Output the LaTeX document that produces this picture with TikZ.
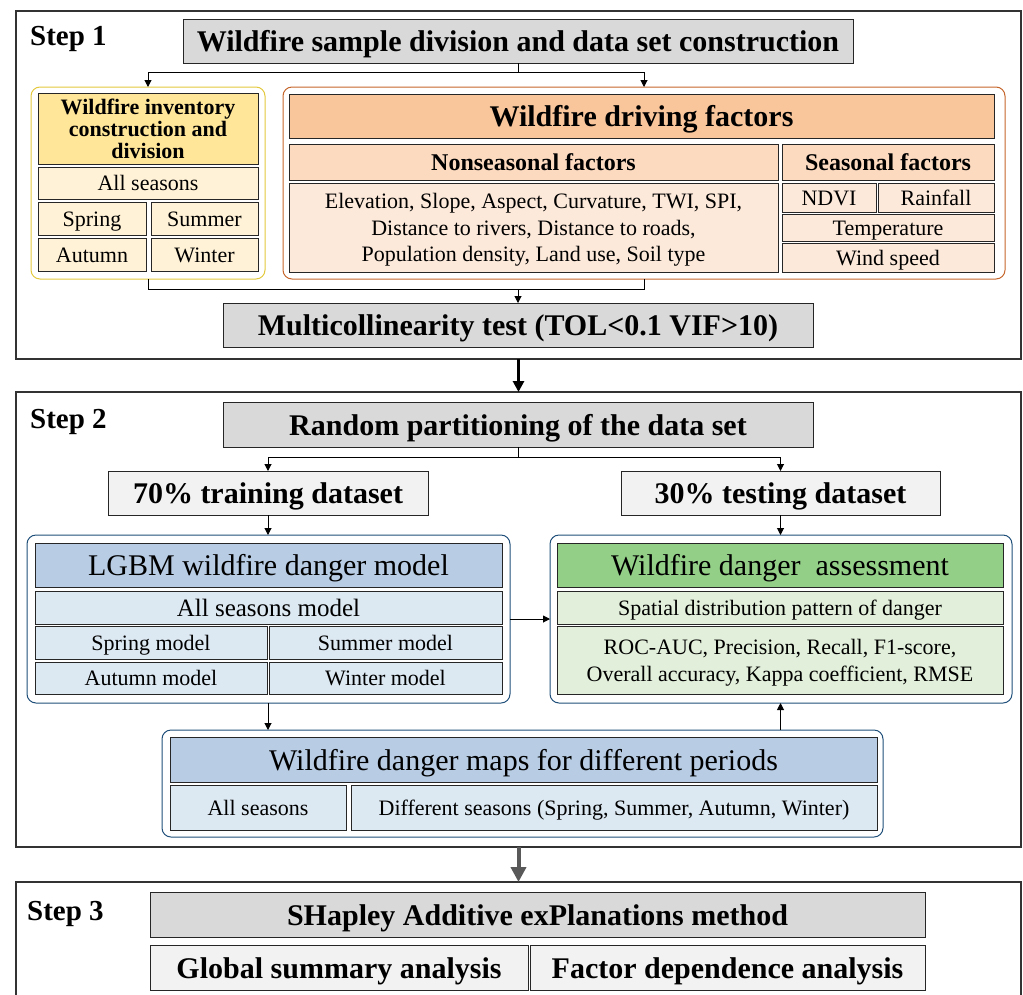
\documentclass[tikz,border=0pt]{standalone}
\usepackage{fontspec}
\setmainfont{Liberation Serif}
\usetikzlibrary{arrows.meta}

\definecolor{grayfill}{HTML}{D9D9D9}
\definecolor{lightfill}{HTML}{F2F2F2}
\definecolor{invline}{HTML}{E2C83C}
\definecolor{invhead}{HTML}{FFE699}
\definecolor{invcell}{HTML}{FFF2D6}
\definecolor{drvline}{HTML}{C5652A}
\definecolor{drvhead}{HTML}{F9C69C}
\definecolor{nonhead}{HTML}{FCDAC0}
\definecolor{drvcell}{HTML}{FDE9DA}
\definecolor{blueline}{HTML}{1F4E79}
\definecolor{bluehead}{HTML}{B8CCE4}
\definecolor{bluecell}{HTML}{DCE8F2}
\definecolor{greenhead}{HTML}{94CF88}
\definecolor{greencell}{HTML}{E2EFDA}

\begin{document}
\begin{tikzpicture}[x=1pt, y=-1pt,
    wh/.style 2 args={minimum width=#1pt, minimum height=#2pt},
    box/.style={draw=black!85, line width=0.9pt, inner sep=0pt, outer sep=0pt, align=center},
    para/.style={box, font=\fontsize{22}{27}\selectfont, text depth=0pt},
    bigbox/.style={box, fill=grayfill, font=\fontsize{30}{34}\selectfont\bfseries, text height=21pt, text depth=0pt},
    setbox/.style={box, fill=lightfill, font=\fontsize{30}{34}\selectfont\bfseries, text height=21pt, text depth=0pt},
    cell/.style={box, font=\fontsize{22}{27}\selectfont, text height=15.5pt, text depth=0pt},
    subhead/.style={box, font=\fontsize{24}{28}\selectfont\bfseries, text height=17pt, text depth=0pt},
    headcell/.style={box, font=\fontsize{30}{34}\selectfont, text height=21pt, text depth=0pt},
    grp/.style={draw, rounded corners=9pt, line width=1pt, inner sep=0pt, outer sep=0pt},
    stepframe/.style={draw=black!80, line width=1.4pt, inner sep=0pt, outer sep=0pt},
    steplabel/.style={anchor=base west, inner sep=0pt, font=\fontsize{29}{34}\selectfont\bfseries},
    arr/.style={-{Triangle[length=7pt, width=7pt]}, line width=1pt},
    bigarr/.style={-{Triangle[length=11pt, width=11pt]}, line width=3pt}
]
\useasboundingbox (0,0) rectangle (1023,994);

% ============================================================
% STEP 1
% ============================================================
\node[stepframe, wh={1005}{348}] (step1) at (518.5,185) {};
\node[steplabel] (lab1) at (30,45) {Step 1};

\node[bigbox, wh={670}{44}] (s1title) at (518,41) {Wildfire sample division and data set construction};

% wildfire inventory (left group)
\node[grp, draw=invline, wh={234}{192}] (invframe) at (148,183) {};
\node[para, fill=invhead, wh={220}{71}, font=\fontsize{22}{22}\selectfont\bfseries] (invhead) at (148,128.5)
    {Wildfire inventory\\construction and\\division};
\node[cell, fill=invcell, wh={220}{32}] (invall) at (148,183) {All seasons};
\node[cell, fill=invcell, wh={108}{33}] (invspr) at (92,218.5) {Spring};
\node[cell, fill=invcell, wh={107}{33}] (invsum) at (204.5,218.5) {Summer};
\node[cell, fill=invcell, wh={108}{33}] (invaut) at (92,254.5) {Autumn};
\node[cell, fill=invcell, wh={107}{33}] (invwin) at (204.5,254.5) {Winter};

% driving factors (right group)
\node[grp, draw=drvline, wh={722}{192}] (drvframe) at (644,183) {};
\node[bigbox, fill=drvhead, wh={705}{44}] (drvhead) at (641.5,116) {Wildfire driving factors};
\node[subhead, fill=nonhead, wh={489}{36}] (nonhead) at (533.5,162) {Nonseasonal factors};
\node[subhead, fill=nonhead, wh={212}{36}] (seahead) at (888,162) {Seasonal factors};
\node[para, fill=drvcell, wh={489}{89}, font=\fontsize{22}{26.5}\selectfont] (nonbody) at (533.5,227.5)
    {Elevation, Slope, Aspect, Curvature, TWI, SPI,\\Distance to rivers, Distance to roads,\\Population density, Land use, Soil type};
\node[cell, fill=drvcell, wh={94}{29}] (ndvi) at (829,197.5) {NDVI};
\node[cell, fill=drvcell, wh={116}{29}] (rain) at (936,197.5) {Rainfall};
\node[cell, fill=drvcell, wh={212}{27}] (temp) at (888,227.5) {Temperature};
\node[cell, fill=drvcell, wh={212}{29}] (wind) at (888,257.5) {Wind speed};

\node[bigbox, wh={590}{44}] (multi) at (518,325) {Multicollinearity test (TOL<0.1 VIF>10)};

% arrows
\draw[line width=1pt] (s1title.south) -- ++(0,9) coordinate (s1split);
\draw[arr] (s1split) -| (invframe.north);
\draw[arr] (s1split) -| (drvframe.north);
\coordinate (s1merge) at (518,289);
\draw[line width=1pt] (invframe.south) |- (s1merge);
\draw[line width=1pt] (drvframe.south) |- (s1merge);
\draw[arr] (s1merge) -- (multi.north);

% ============================================================
% STEP 2
% ============================================================
\node[stepframe, wh={1005}{455}] (step2) at (518.5,619.5) {};
\node[steplabel] (lab2) at (30,428) {Step 2};

\draw[bigarr] (step1.south) -- (step2.north);

\node[bigbox, wh={590}{45}] (part) at (518,424.5) {Random partitioning of the data set};
\node[setbox, wh={320}{44}] (train) at (268,493) {70\% training dataset};
\node[setbox, wh={319}{44}] (test) at (780.5,493) {30\% testing dataset};

% LGBM model group
\node[grp, draw=blueline, wh={483}{168}] (lgbmframe) at (268.5,619) {};
\node[headcell, fill=bluehead, wh={467}{44}] (lgbmhead) at (268.5,565) {LGBM wildfire danger model};
\node[cell, fill=bluecell, wh={467}{33}, font=\fontsize{25}{28}\selectfont, text height=17.5pt] (allmod) at (268.5,607.5) {All seasons model};
\node[cell, fill=bluecell, wh={232}{33}] (sprmod) at (151,642.5) {Spring model};
\node[cell, fill=bluecell, wh={233}{33}] (summod) at (385.5,642.5) {Summer model};
\node[cell, fill=bluecell, wh={232}{32}] (autmod) at (151,678) {Autumn model};
\node[cell, fill=bluecell, wh={233}{32}] (winmod) at (385.5,678) {Winter model};

% assessment group
\node[grp, draw=blueline, wh={462}{168}] (assframe) at (781,619) {};
\node[headcell, fill=greenhead, wh={446}{44}] (asshead) at (780,565) {Wildfire danger\ \ assessment};
\node[cell, fill=greencell, wh={446}{33}] (spat) at (780,607.5) {Spatial distribution pattern of danger};
\node[para, fill=greencell, wh={446}{68}] (metr) at (780,660)
    {ROC-AUC, Precision, Recall, F1-score,\\Overall accuracy, Kappa coefficient, RMSE};

% danger maps group
\node[grp, draw=blueline, wh={721}{107}] (mapframe) at (522.5,783.5) {};
\node[headcell, fill=bluehead, wh={707}{45}] (maphead) at (523.5,759.5) {Wildfire danger maps for different periods};
\node[cell, fill=bluecell, wh={176}{45}] (mapall) at (258,807.5) {All seasons};
\node[cell, fill=bluecell, wh={526}{45}] (mapdiff) at (614,807.5) {Different seasons (Spring, Summer, Autumn, Winter)};

% arrows
\draw[line width=1pt] (part.south) -- ++(0,10) coordinate (s2split);
\draw[arr] (s2split) -| (train.north);
\draw[arr] (s2split) -| (test.north);
\draw[arr] (train.south) -- (train.south |- lgbmframe.north);
\draw[arr] (test.south) -- (test.south |- assframe.north);
\draw[arr] (lgbmframe.east) -- (assframe.west);
\draw[arr] (lgbmframe.south -| train) -- (train |- mapframe.north);
\draw[arr] (test |- mapframe.north) -- (test |- assframe.south);

% ============================================================
% STEP 3
% ============================================================
\draw[stepframe] (16,1000) -- (16,882) -- (1021,882) -- (1021,1000);
\coordinate (step3top) at (518.5,882);
\node[steplabel] (lab3) at (27,920) {Step 3};

\draw[bigarr, draw=black!65, fill=black!65, line width=4pt, -{Triangle[length=15pt, width=15pt]}] (step2.south) -- (step3top);

\node[bigbox, wh={775}{45}] (shap) at (537.5,914.5) {SHapley Additive exPlanations method};
\node[setbox, wh={378}{45}] (glob) at (339,967.5) {Global summary analysis};
\node[setbox, wh={395}{45}] (fact) at (727.5,967.5) {Factor dependence analysis};

\end{tikzpicture}
\end{document}
